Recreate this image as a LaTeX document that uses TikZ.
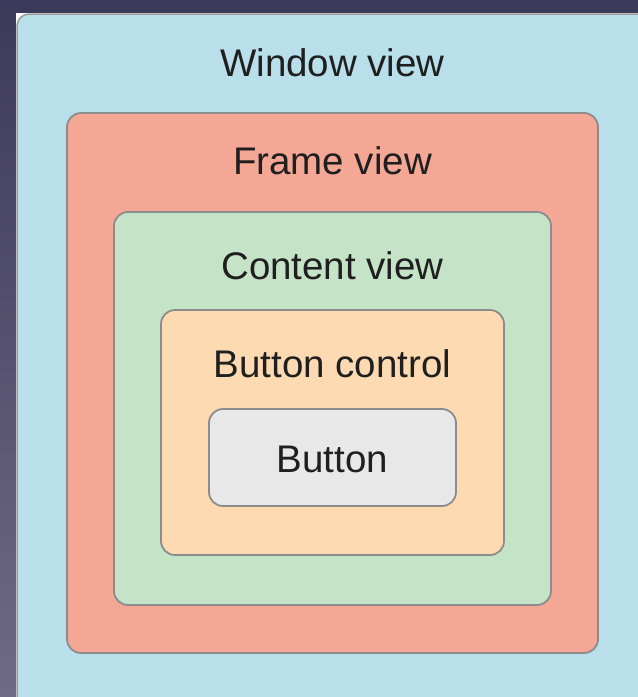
\documentclass[tikz,border=0pt]{standalone}
\usepackage{fontspec}
\setmainfont{Liberation Sans}
\begin{document}
\begin{tikzpicture}[x=1pt,y=-1pt,
  panel/.style={draw=black!45, line width=1.8pt, rounded corners=14pt},
  caption/.style={font=\fontsize{38.5}{42}\selectfont, text=black!88, inner sep=0pt, anchor=center}]
\definecolor{navy}{HTML}{3C3A5B}
\definecolor{slate}{HTML}{6E6A86}
\definecolor{winblue}{HTML}{B9E0EA}
\definecolor{framered}{HTML}{F4A795}
\definecolor{contgreen}{HTML}{C5E3C7}
\definecolor{ctlpeach}{HTML}{FDDAB2}
\definecolor{btngray}{HTML}{E8E8E8}
\useasboundingbox (0,0) rectangle (638,697);
% dark backdrop
\fill[navy] (0,0) rectangle (638,697);
\shade[top color=navy, bottom color=slate] (0,0) rectangle (16,697);
% window sheet
\fill[white] (16,13) rectangle (640,699);
\filldraw[fill=winblue, draw=black!40, line width=1.5pt, rounded corners=12pt] (17,14) rectangle (650,710);
% nested views
\node[panel, fill=framered, minimum width=531pt, minimum height=540pt] (frame) at (332.5,383) {};
\node[panel, fill=contgreen, minimum width=437pt, minimum height=393pt] (content) at (332.5,408.5) {};
\node[panel, fill=ctlpeach, minimum width=343pt, minimum height=245pt] (control) at (332.5,432.5) {};
\node[panel, fill=btngray, minimum width=247pt, minimum height=97pt] (button) at (332.5,457.5) {};
% labels
\node[caption] (lwin) at (332.5,63) {Window view};
\node[caption] (lframe) at (332.5,161) {Frame view};
\node[caption] (lcont) at (332.5,266) {Content view};
\node[caption] (lctl) at (332.5,364) {Button control};
\node[caption] (lbtn) at (332.5,459) {Button};
\end{tikzpicture}
\end{document}
